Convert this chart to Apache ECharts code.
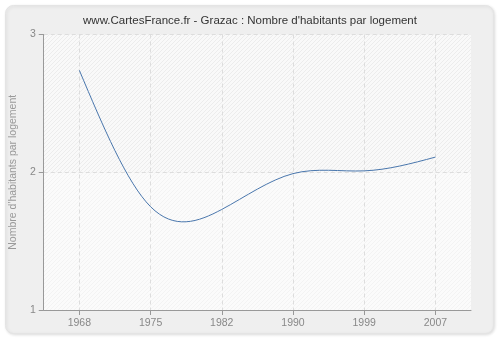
<!DOCTYPE html>
<html>
<head>
<meta charset="utf-8">
<script src="https://cdn.jsdelivr.net/npm/echarts@6/dist/echarts.min.js"></script>
<style>
  html, body { margin: 0; padding: 0; background: #ffffff; }
  #chart { width: 500px; height: 340px; }
</style>
</head>
<body>
<div id="chart"></div>
<script>
// Census years and average number of inhabitants per dwelling
const years = ['1968', '1975', '1982', '1990', '1999', '2007'];
const habitantsParLogement = [2.74, 1.75, 1.73, 1.99, 2.01, 2.11];
const yMin = 1;
const yMax = 3;
const yStep = 1;

// Small tiles with diagonal hatching used to fill the plot bands
function hatchTile(bg, lineColor) {
  const size = 4;
  const c = document.createElement('canvas');
  c.width = size; c.height = size;
  const ctx = c.getContext('2d');
  ctx.fillStyle = bg;
  ctx.fillRect(0, 0, size, size);
  ctx.fillStyle = lineColor;
  for (let i = 0; i < size; i++) {
    ctx.fillRect(size - 1 - i, i, 1, 1);
  }
  return { image: c, repeat: 'repeat' };
}

const lowerBand = hatchTile('#fbfbfb', '#f3f3f3');
const upperBand = hatchTile('#f9f9f9', '#ececec');

// Second derivatives of a natural cubic spline through evenly spaced points
function naturalSecondDerivs(ys) {
  const n = ys.length;
  const M = new Array(n).fill(0);
  if (n < 3) return M;
  const c = new Array(n).fill(0);
  const d = new Array(n).fill(0);
  for (let i = 1; i < n - 1; i++) {
    const rhs = 6 * (ys[i + 1] - 2 * ys[i] + ys[i - 1]);
    const denom = 4 - (i > 1 ? c[i - 1] : 0);
    c[i] = 1 / denom;
    d[i] = (rhs - (i > 1 ? d[i - 1] : 0)) / denom;
  }
  for (let i = n - 2; i >= 1; i--) {
    M[i] = d[i] - c[i] * M[i + 1];
  }
  return M;
}

// Draws the segment between point i and i+1 as a cubic Bézier of the spline
function renderSplineSegment(params, api) {
  const i = params.dataIndex;
  const n = habitantsParLogement.length;
  if (i >= n - 1) return null;
  const pts = habitantsParLogement.map((v, k) => api.coord([k, v]));
  const ys = pts.map(p => p[1]);
  const M = naturalSecondDerivs(ys);
  const p0 = pts[i];
  const p1 = pts[i + 1];
  const dy = p1[1] - p0[1];
  const slope0 = dy - (2 * M[i] + M[i + 1]) / 6;
  const slope1 = dy + (M[i] + 2 * M[i + 1]) / 6;
  const hx = p1[0] - p0[0];
  return {
    type: 'bezierCurve',
    shape: {
      x1: p0[0], y1: p0[1],
      x2: p1[0], y2: p1[1],
      cpx1: p0[0] + hx / 3, cpy1: p0[1] + slope0 / 3,
      cpx2: p1[0] - hx / 3, cpy2: p1[1] - slope1 / 3
    },
    style: { stroke: '#4a77ad', lineWidth: 1, fill: null }
  };
}

const chart = echarts.init(document.getElementById('chart'), null, { renderer: 'canvas' });

chart.setOption({
  animation: false,
  backgroundColor: '#ffffff',
  graphic: [{
    type: 'rect',
    z: -10,
    silent: true,
    shape: { x: 5.5, y: 5.5, width: 488, height: 328, r: 8 },
    style: {
      fill: '#efefef',
      stroke: '#e4e4e4',
      lineWidth: 1,
      shadowBlur: 3,
      shadowOffsetX: 1,
      shadowOffsetY: 1,
      shadowColor: 'rgba(0,0,0,0.12)'
    }
  }],
  title: {
    text: 'www.CartesFrance.fr - Grazac : Nombre d\'habitants par logement',
    left: 'center',
    top: 10,
    textStyle: {
      fontFamily: 'Liberation Sans',
      fontSize: 11.5,
      fontWeight: 'normal',
      color: '#333333'
    }
  },
  grid: {
    left: 40,
    right: 29,
    top: 34.5,
    bottom: 30,
    containLabel: false
  },
  xAxis: {
    type: 'category',
    data: years,
    boundaryGap: true,
    axisLine: { show: true, lineStyle: { color: '#999999', width: 1 } },
    axisTick: { show: true, alignWithLabel: true, length: 5, lineStyle: { color: '#999999' } },
    axisLabel: {
      margin: 8,
      fontFamily: 'Liberation Sans',
      fontSize: 10.5,
      color: '#888888'
    },
    splitLine: {
      show: true,
      alignWithLabel: true,
      lineStyle: { color: '#dddddd', type: [4, 3], width: 1 }
    }
  },
  yAxis: {
    type: 'value',
    min: yMin,
    max: yMax,
    interval: yStep,
    name: 'Nombre d\'habitants par logement',
    nameLocation: 'middle',
    nameGap: 21,
    nameTextStyle: {
      fontFamily: 'Liberation Sans',
      fontSize: 10.5,
      color: '#999999'
    },
    axisLine: { show: true, lineStyle: { color: '#999999', width: 1 } },
    axisTick: { show: true, length: 5, lineStyle: { color: '#999999' } },
    axisLabel: {
      margin: 8,
      fontFamily: 'Liberation Sans',
      fontSize: 10.5,
      color: '#888888'
    },
    splitLine: {
      show: true,
      lineStyle: { color: '#dddddd', type: [4, 3], width: 1 }
    },
    splitArea: {
      show: true,
      areaStyle: { color: [lowerBand, upperBand] }
    }
  },
  series: [{
    type: 'custom',
    name: 'Nombre d\'habitants par logement',
    data: habitantsParLogement.map((v, i) => [i, v]),
    encode: { x: 0, y: 1 },
    renderItem: renderSplineSegment,
    silent: true
  }]
});
</script>
</body>
</html>
